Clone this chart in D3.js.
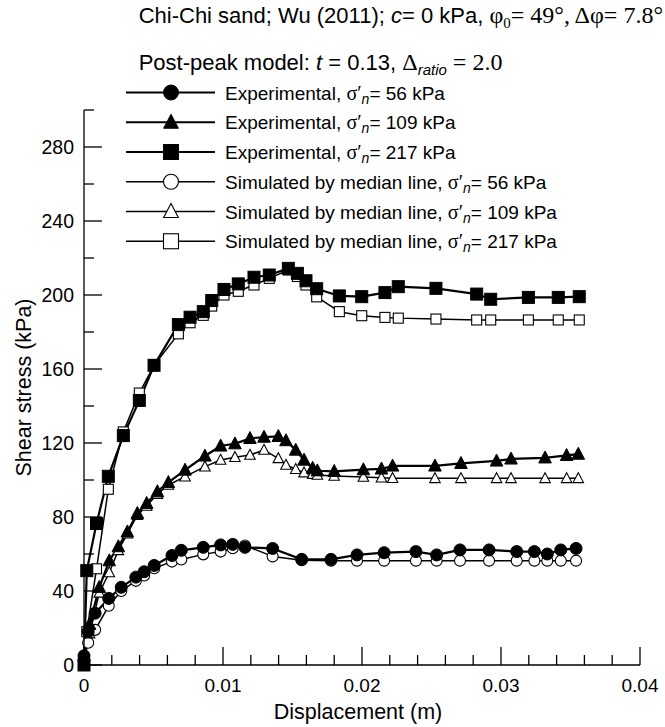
<!DOCTYPE html>
<html><head><meta charset="utf-8">
<script src="https://cdn.jsdelivr.net/npm/d3@7"></script>
<style>
html,body{margin:0;padding:0;background:#fff;}
svg text{font-family:"Liberation Sans",Arial,sans-serif;fill:#000;}
.serif{font-family:"Liberation Serif","Times New Roman",serif;}
</style>
</head><body>
<svg id="chart" width="665" height="727"></svg>
<script>
// ---------------- data ----------------
const x56   = [0, 0.0003, 0.0008, 0.00178, 0.00268, 0.00373, 0.00433, 0.00505, 0.00633, 0.0070, 0.00858, 0.00983, 0.0107, 0.01158, 0.01357, 0.01566, 0.01777, 0.01964, 0.02159, 0.02388, 0.02537, 0.02705, 0.02914, 0.03113, 0.0324, 0.03333, 0.0343, 0.0354];
const exp56 = [5, 18, 28, 36, 42, 47.5, 50.4, 53.8, 59.2, 62, 63.6, 64.9, 65.2, 63.6, 63, 57.1, 57.1, 59.5, 60.7, 61.3, 59.5, 62.2, 62.2, 61.3, 61.3, 60, 62.2, 63];
const sim56 = [3, 12, 19, 32, 40, 45.5, 48.4, 52.3, 55.9, 57, 59.8, 61.3, 63.1, 64.6, 58.7, 56.6, 56.4, 56.4, 56.4, 56.4, 56.4, 56.4, 56.4, 56.4, 56.4, 56.4, 56.4, 56.4];

const x109   = [0, 0.0004, 0.0011, 0.00182, 0.00247, 0.00312, 0.00384, 0.00451, 0.00528, 0.00607, 0.00727, 0.0087, 0.00983, 0.01086, 0.01194, 0.01295, 0.01398, 0.01453, 0.01523, 0.01583, 0.01645, 0.01679, 0.018, 0.0201, 0.0214, 0.0222, 0.02525, 0.02712, 0.02968, 0.03072, 0.03317, 0.03472, 0.03556];
const exp109 = [5, 22, 42, 56.4, 64, 72, 82, 87.4, 93.7, 98.7, 105.4, 113, 118.4, 119.6, 122.5, 123.2, 123.6, 121.3, 116.2, 110.8, 106.4, 105, 104.7, 105.6, 106, 107.6, 107.6, 109, 110.3, 111.4, 112, 113.3, 114];
const sim109 = [3, 17, 39, 50, 62, 71, 81, 86, 92.4, 97.3, 101.8, 107.2, 110.8, 112.3, 113.5, 116.2, 111.7, 108.1, 105.8, 104, 103.2, 102.7, 102.2, 101.6, 101.2, 101, 100.9, 100.9, 100.9, 100.9, 100.9, 100.9, 100.9];

const x217   = [0, 0.0002, 0.0009, 0.00175, 0.00283, 0.00398, 0.00504, 0.00679, 0.00763, 0.00858, 0.00919, 0.01007, 0.0111, 0.01223, 0.01333, 0.0147, 0.01535, 0.01597, 0.01674, 0.01837, 0.01998, 0.02165, 0.02261, 0.02532, 0.02825, 0.02926, 0.03197, 0.03412, 0.03563];
const exp217 = [0, 51, 76.5, 102, 124, 143, 162, 184, 188, 191, 197, 203, 206, 209.6, 210.8, 214.4, 211.7, 207.7, 203.4, 199.5, 199.1, 201.3, 204.5, 203.6, 200.5, 197.7, 198.7, 198.7, 199.1];
const sim217 = [0, 18, 52, 95, 126, 147, 162, 179, 185, 189, 194, 200, 202, 205.4, 209, 213.5, 210, 205.4, 199, 191, 188.8, 187.9, 187.5, 187, 186.5, 186.5, 186.5, 186.5, 186.5];

const xMajorTicks = [0, 0.01, 0.02, 0.03, 0.04];
const xTickLabels = ["0", "0.01", "0.02", "0.03", "0.04"];
const yMajorTicks = [0, 40, 80, 120, 160, 200, 240, 280];
const legendStress = ["56", "109", "217"];

// ---------------- layout ----------------
const svg = d3.select("#chart");
const x = d3.scaleLinear().domain([0, 0.04]).range([84, 640]);
const y = d3.scaleLinear().domain([0, 300]).range([665, 110]);

const series = [
  {xs: x56,  ys: exp56,  shape: "circle",   filled: true,  lw: 2.2, size: 6},
  {xs: x109, ys: exp109, shape: "triangle", filled: true,  lw: 2.2, size: 6},
  {xs: x217, ys: exp217, shape: "square",   filled: true,  lw: 2.2, size: 6},
  {xs: x56,  ys: sim56,  shape: "circle",   filled: false, lw: 1.5, size: 5.5},
  {xs: x109, ys: sim109, shape: "triangle", filled: false, lw: 1.5, size: 5},
  {xs: x217, ys: sim217, shape: "square",   filled: false, lw: 1.5, size: 5}
];

function drawMarker(g, shape, filled, cx, cy, r) {
  let el;
  if (shape === "circle") el = g.append("circle").attr("cx", cx).attr("cy", cy).attr("r", r);
  else if (shape === "square") el = g.append("rect").attr("x", cx - r).attr("y", cy - r).attr("width", 2 * r).attr("height", 2 * r);
  else {
    const h = r * 1.9, w = r * 2.1;
    el = g.append("path").attr("d", `M${cx},${cy - h*0.6}L${cx + w/2},${cy + h*0.45}L${cx - w/2},${cy + h*0.45}Z`);
  }
  el.attr("fill", filled ? "#000" : "#fff").attr("stroke", "#000").attr("stroke-width", filled ? 1 : 1.1);
}

const plot = svg.append("g");
const line = d3.line().x(d => x(d[0])).y(d => y(d[1]));
[3,4,5,0,1,2].forEach(i => {
  const s = series[i];
  plot.append("path").datum(s.xs.map((v, k) => [v, s.ys[k]]))
    .attr("d", line).attr("fill", "none").attr("stroke", "#000")
    .attr("stroke-width", s.lw).attr("stroke-linejoin", "round");
});
[3,4,5,0,1,2].forEach(i => {
  const s = series[i];
  s.xs.forEach((v, k) => drawMarker(plot, s.shape, s.filled, x(v), y(s.ys[k]), s.size));
});

// ---------------- axes ----------------
const ax = svg.append("g").attr("stroke", "#000").attr("stroke-width", 1.3);
ax.append("line").attr("x1", x(0)).attr("x2", x(0.04)).attr("y1", y(0)).attr("y2", y(0));
ax.append("line").attr("x1", x(0)).attr("x2", x(0)).attr("y1", y(0)).attr("y2", y(300));
d3.range(0, 0.0401, 0.002).forEach(v => {
  const major = Math.abs(v / 0.01 - Math.round(v / 0.01)) < 1e-6;
  ax.append("line").attr("x1", x(v)).attr("x2", x(v)).attr("y1", y(0)).attr("y2", y(0) - (major ? 18 : 10));
});
d3.range(0, 301, 20).forEach(v => {
  const major = v % 40 === 0;
  ax.append("line").attr("x1", x(0)).attr("x2", x(0) + (major ? 18 : 10)).attr("y1", y(v)).attr("y2", y(v));
});
xMajorTicks.forEach((v, i) => {
  svg.append("text").attr("x", x(v)).attr("y", 692).attr("text-anchor", "middle")
    .attr("font-size", 19).text(xTickLabels[i]);
});
yMajorTicks.forEach(v => {
  svg.append("text").attr("x", 74).attr("y", y(v) + 7).attr("text-anchor", "end")
    .attr("font-size", 19.5).text(String(v));
});
svg.append("text").attr("x", 358).attr("y", 719).attr("text-anchor", "middle")
  .attr("font-size", 21.5).text("Displacement (m)");
svg.append("text").attr("transform", `translate(31,${y(150)}) rotate(-90)`).attr("text-anchor", "middle")
  .attr("font-size", 21.5).text("Shear stress (kPa)");

// ---------------- title ----------------
const t1 = svg.append("text").attr("x", 663).attr("y", 23).attr("text-anchor", "end").attr("font-size", 22);
t1.append("tspan").text("Chi-Chi sand; Wu (2011); ");
t1.append("tspan").attr("font-style", "italic").text("c");
t1.append("tspan").text("= 0 kPa, ");
t1.append("tspan").attr("class", "serif").attr("font-size", 24).text("φ");
t1.append("tspan").attr("class", "serif").attr("font-size", 15).attr("dy", 5).text("0");
t1.append("tspan").attr("class", "serif").attr("font-size", 24).attr("dy", -5).text("= 49°, Δφ= 7.8°");
let t1x = 137;
try { t1x = t1.node().getBBox().x; } catch (e) {}

const t2 = svg.append("text").attr("x", t1x).attr("y", 70).attr("font-size", 22);
t2.append("tspan").text("Post-peak model: ");
t2.append("tspan").attr("font-style", "italic").text("t");
t2.append("tspan").text(" = 0.13, ");
t2.append("tspan").attr("class", "serif").attr("font-size", 24).text("Δ");
t2.append("tspan").attr("font-style", "italic").attr("font-size", 15).attr("dy", 5).text("ratio");
t2.append("tspan").attr("class", "serif").attr("font-size", 24).attr("dy", -5).text(" = 2.0");

// ---------------- legend ----------------
const legendLabels = [
  ["Experimental,", legendStress[0]],
  ["Experimental,", legendStress[1]],
  ["Experimental,", legendStress[2]],
  ["Simulated by median line,", legendStress[0]],
  ["Simulated by median line,", legendStress[1]],
  ["Simulated by median line,", legendStress[2]]
];
const lg = svg.append("g");
series.forEach((s, i) => {
  const yy = 92.5 + 29.75 * i;
  lg.append("line").attr("x1", 126).attr("x2", 215).attr("y1", yy).attr("y2", yy)
    .attr("stroke", "#000").attr("stroke-width", s.lw);
  drawMarker(lg, s.shape, s.filled, 171, yy, s.shape === "triangle" ? 7 : 7.5);
  const tx = lg.append("text").attr("x", 225).attr("y", yy + 7).attr("font-size", 19);
  tx.append("tspan").text(legendLabels[i][0] + " ");
  tx.append("tspan").attr("class", "serif").attr("font-size", 20).text("σ′");
  tx.append("tspan").attr("font-style", "italic").attr("font-size", 14).attr("dy", 4).text("n");
  tx.append("tspan").attr("dy", -4).text("= " + legendLabels[i][1] + " kPa");
});
</script>
</body></html>
